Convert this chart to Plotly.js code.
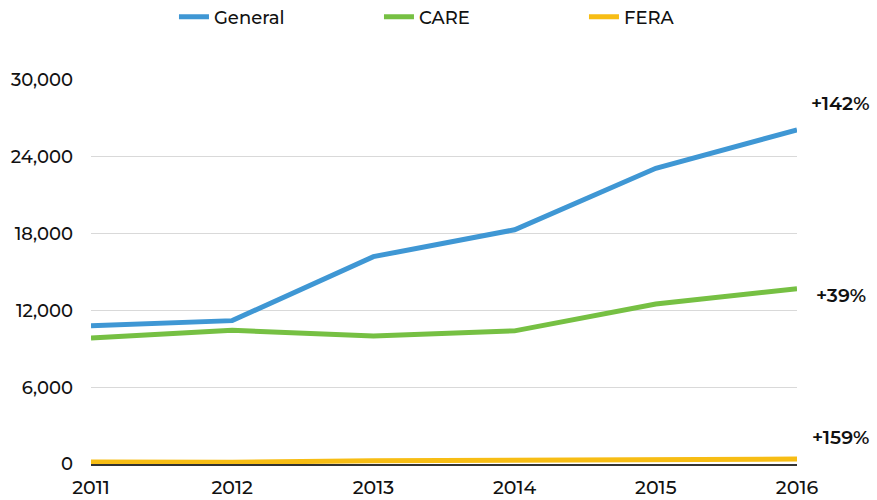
<!DOCTYPE html>
<html><head><meta charset="utf-8">
<script src="https://cdn.plot.ly/plotly-3.0.1.min.js"></script>
<style>html,body{margin:0;padding:0;background:#fff;}</style>
</head><body>
<div id="chart" style="width:877px;height:500px;"></div>
<script>
const years = [2011, 2012, 2013, 2014, 2015, 2016];
const general = [10800, 11200, 16200, 18300, 23100, 26100];
const care = [9850, 10450, 10000, 10400, 12500, 13700];
const fera = [150, 140, 250, 270, 330, 390];
const seriesNames = ['General', 'CARE', 'FERA'];
const growthLabels = ['+142%', '+39%', '+159%'];
const yTicks = [0, 6000, 12000, 18000, 24000, 30000];
const colors = ['#3f97d4', '#76c043', '#f7bd14'];
const labelY = [28200, 13150, 2100];

const font = 'Montserrat, "Open Sans", "Noto Sans", sans-serif';
const traces = [general, care, fera].map((v, i) => ({
  x: years, y: v, type: 'scatter', mode: 'lines', name: seriesNames[i],
  line: {color: colors[i], width: 5}, cliponaxis: false
}));
const annotations = growthLabels.map((t, i) => ({
  text: t, xref: 'paper', x: 1.062, y: labelY[i], yref: 'y',
  showarrow: false, font: {family: font, size: 19, color: '#111', weight: 600}, xanchor: 'center'
}));
const layout = {
  width: 877, height: 500,
  margin: {l: 91, r: 80, t: 80, b: 36},
  paper_bgcolor: '#fff', plot_bgcolor: '#fff',
  font: {family: font, size: 17, color: '#111', weight: 500},
  showlegend: true,
  legend: {orientation: 'h', xref: 'container', x: 0.549, xanchor: 'center',
    yref: 'container', y: 0.966, yanchor: 'middle',
    entrywidth: 160, font: {size: 18, color: '#111', weight: 500}},
  xaxis: {range: [2011, 2016], tickvals: years, ticktext: years.map(String),
    showgrid: false, zeroline: false, showline: true, linecolor: '#333', linewidth: 1.5,
    ticks: '', ticklabelstandoff: 6, tickfont: {size: 19, weight: 500}, fixedrange: true},
  yaxis: {range: [0, 30000], tickvals: yTicks, ticktext: yTicks.map(v => v.toLocaleString('en-US')),
    showgrid: true, gridcolor: '#d9d9d9', gridwidth: 1, zeroline: false, showline: false,
    ticks: '', ticklabelstandoff: 17, tickfont: {size: 18, weight: 500}, fixedrange: true},
  annotations: annotations
};
Plotly.newPlot('chart', traces, layout, {displayModeBar: false, staticPlot: true});
</script>
</body></html>
